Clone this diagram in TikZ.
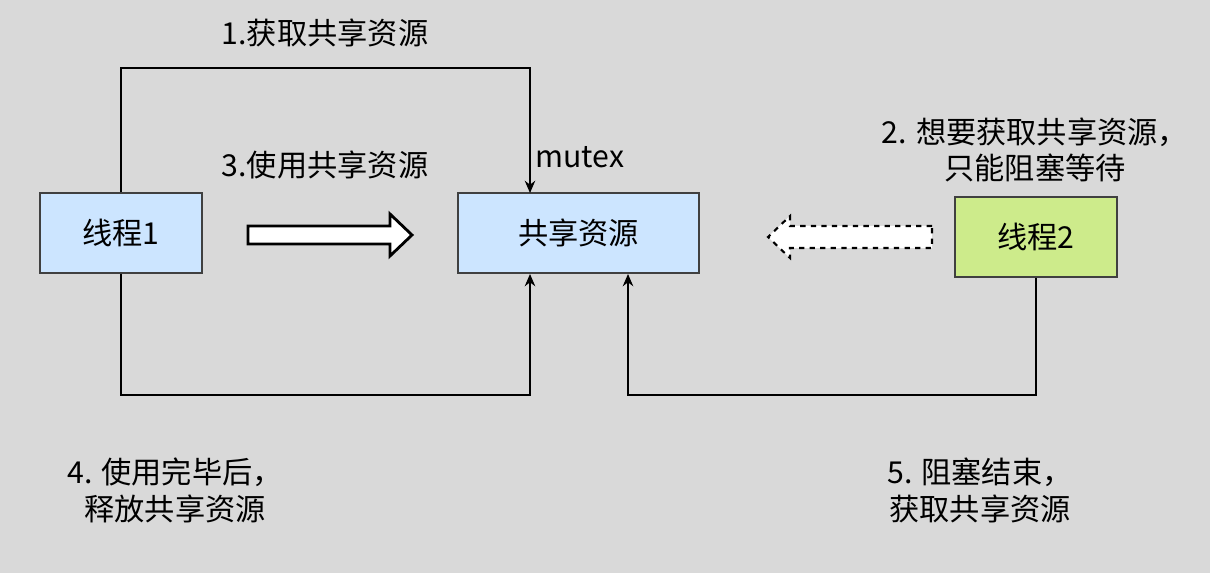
\documentclass[tikz,border=0pt]{standalone}
\usepackage{fontspec}
\setmainfont{Noto Sans CJK SC}
\usetikzlibrary{positioning,arrows.meta}
\definecolor{bg}{HTML}{D9D9D9}
\definecolor{boxblue}{HTML}{CCE5FF}
\definecolor{boxgreen}{HTML}{CDEB8B}
\tikzset{
  box/.style={draw=black!75, line width=0.8pt, minimum width=162\pxu, minimum height=80\pxu, font=\fsz},
  link/.style={draw=black, line width=0.8pt, -{Stealth[length=7pt,width=6pt]}},
  lbl/.style={align=center, font=\fsz}
}
\newlength{\pxu}\setlength{\pxu}{0.02cm}
\newcommand{\fsz}{\fontsize{17.2}{21}\selectfont}
\begin{document}
\begin{tikzpicture}[x=0.02cm, y=-0.02cm]
  % background
  \fill[bg] (0,0) rectangle (1210,573);
  \useasboundingbox (0,0) rectangle (1210,573);

  % boxes
  \node[box, fill=boxblue] (t1) at (121,233) {线程1};
  \node[box, fill=boxblue, minimum width=241\pxu] (res) at (578.5,233) {共享资源};
  \node[box, fill=boxgreen] (t2) at (1036,237) {线程2};

  % 1. acquire
  \coordinate (a1) at (t1.north |- 0,68);
  \coordinate (a2) at (530,68);
  \coordinate (a3) at (530,193);
  \draw[link] (t1.north) -- (a1) -- (a2) -- (a3);
  \node[lbl] at (325,33) {1.获取共享资源};
  \node[lbl] at (580,157) {mutex};

  % 3. use
  \node[lbl] at (325,165) {3.使用共享资源};
  \draw[line width=1.6pt, fill=white]
    (248,226) -- (390,226) -- (390,214) -- (412,235) -- (390,256) -- (390,244) -- (248,244) -- cycle;

  % 2. wait
  \node[lbl] at (1035,150) {2. 想要获取共享资源，\\只能阻塞等待};
  \draw[line width=1.2pt, dashed, fill=white]
    (932,226) -- (790,226) -- (790,216) -- (768,237) -- (790,258) -- (790,248) -- (932,248) -- cycle;

  % 4. release
  \coordinate (b1) at (t1.south |- 0,395);
  \coordinate (b2) at (530,395);
  \coordinate (b3) at (530,274);
  \draw[link] (t1.south) -- (b1) -- (b2) -- (b3);
  \node[lbl] at (175,490) {4. 使用完毕后，\\释放共享资源};

  % 5. unblock
  \coordinate (c1) at (t2.south |- 0,395);
  \coordinate (c2) at (628,395);
  \coordinate (c3) at (628,274);
  \draw[link] (t2.south) -- (c1) -- (c2) -- (c3);
  \node[lbl] at (980,490) {5. 阻塞结束，\\获取共享资源};
\end{tikzpicture}
\end{document}
